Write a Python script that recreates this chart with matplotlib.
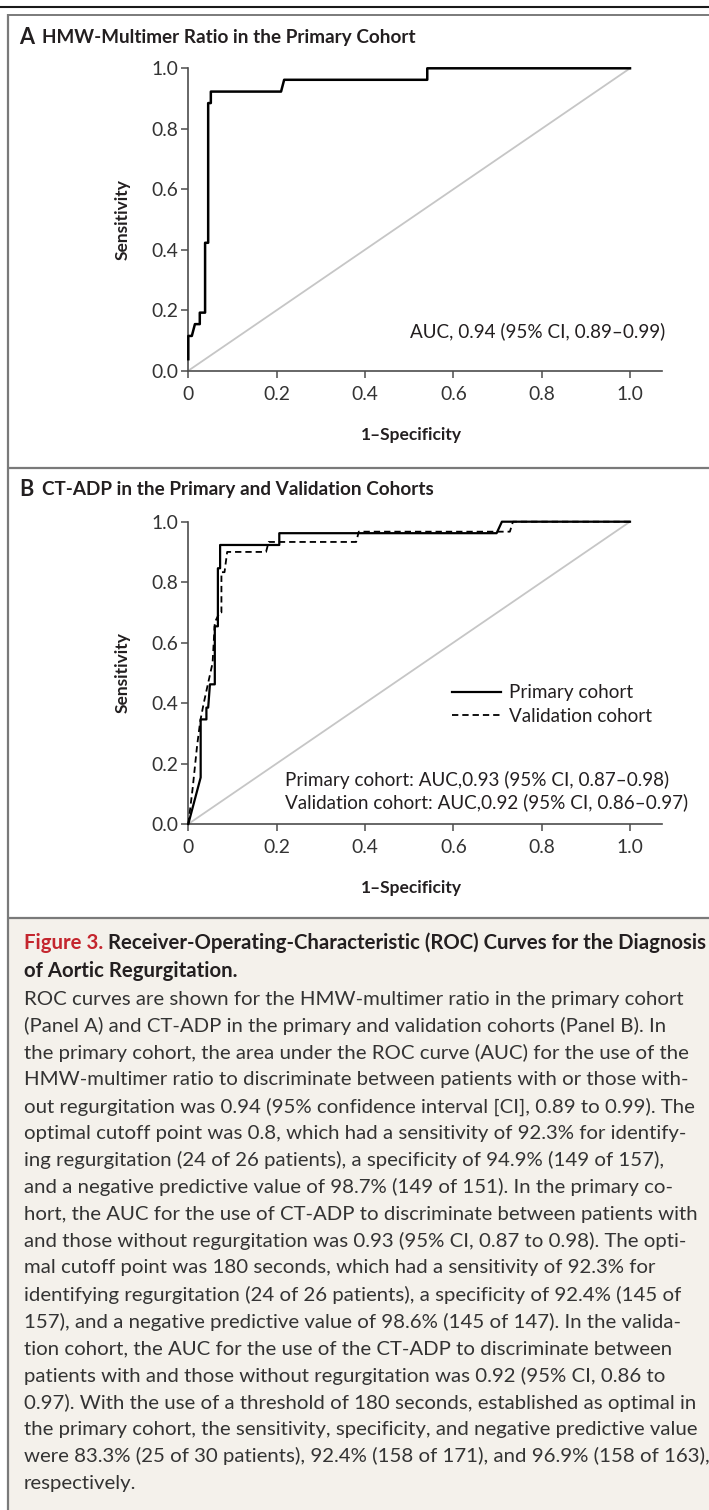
import matplotlib
matplotlib.use("Agg")
import matplotlib.pyplot as plt
from matplotlib.patches import Rectangle

plt.rcParams["font.family"] = ["Lato", "DejaVu Sans"]

# Panel A: HMW-multimer ratio, primary cohort (26 with / 157 without regurgitation)
fpr_hmw = [0.0, 0.0, 0.008, 0.015, 0.026, 0.026, 0.038, 0.038, 0.045, 0.045,
           0.051, 0.051, 0.210, 0.217, 0.541, 0.541, 1.0]
tpr_hmw = [0.038, 0.115, 0.115, 0.154, 0.154, 0.192, 0.192, 0.423, 0.423, 0.885,
           0.885, 0.923, 0.923, 0.962, 0.962, 1.0, 1.0]

# Panel B: CT-ADP, primary cohort
fpr_ct_primary = [0.0, 0.028, 0.028, 0.041, 0.041, 0.045, 0.049, 0.060, 0.060,
                  0.067, 0.067, 0.072, 0.072, 0.206, 0.206, 0.698, 0.710, 1.0]
tpr_ct_primary = [0.0, 0.154, 0.346, 0.346, 0.385, 0.385, 0.462, 0.462, 0.654,
                  0.654, 0.846, 0.846, 0.923, 0.923, 0.962, 0.962, 1.0, 1.0]

# Panel B: CT-ADP, validation cohort (30 with / 171 without regurgitation)
fpr_ct_valid = [0.0, 0.010, 0.020, 0.027, 0.035, 0.045, 0.055, 0.060, 0.071,
                0.075, 0.075, 0.082, 0.088, 0.176, 0.182, 0.380, 0.386, 0.728,
                0.735, 1.0]
tpr_ct_valid = [0.0, 0.120, 0.260, 0.340, 0.400, 0.467, 0.533, 0.667, 0.700,
                0.700, 0.833, 0.833, 0.900, 0.900, 0.933, 0.933, 0.967, 0.967,
                1.0, 1.0]

tick_vals = [0, 0.2, 0.4, 0.6, 0.8, 1.0]
xtick_labels = ["0", "0.2", "0.4", "0.6", "0.8", "1.0"]
ytick_labels = ["0.0", "0.2", "0.4", "0.6", "0.8", "1.0"]

auc_hmw = "AUC, 0.94 (95% CI, 0.89\u20130.99)"
auc_primary = "Primary cohort: AUC,0.93 (95% CI, 0.87\u20130.98)"
auc_valid = "Validation cohort: AUC,0.92 (95% CI, 0.86\u20130.97)"

caption_title = ["Receiver-Operating-Characteristic (ROC) Curves for the Diagnosis",
                 "of Aortic Regurgitation."]
caption_lines = [
    "ROC curves are shown for the HMW-multimer ratio in the primary cohort",
    "(Panel A) and CT-ADP in the primary and validation cohorts (Panel B). In",
    "the primary cohort, the area under the ROC curve (AUC) for the use of the",
    "HMW-multimer ratio to discriminate between patients with or those with-",
    "out regurgitation was 0.94 (95% confidence interval [CI], 0.89 to 0.99). The",
    "optimal cutoff point was 0.8, which had a sensitivity of 92.3% for identify-",
    "ing regurgitation (24 of 26 patients), a specificity of 94.9% (149 of 157),",
    "and a negative predictive value of 98.7% (149 of 151). In the primary co-",
    "hort, the AUC for the use of CT-ADP to discriminate between patients with",
    "and those without regurgitation was 0.93 (95% CI, 0.87 to 0.98). The opti-",
    "mal cutoff point was 180 seconds, which had a sensitivity of 92.3% for",
    "identifying regurgitation (24 of 26 patients), a specificity of 92.4% (145 of",
    "157), and a negative predictive value of 98.6% (145 of 147). In the valida-",
    "tion cohort, the AUC for the use of the CT-ADP to discriminate between",
    "patients with and those without regurgitation was 0.92 (95% CI, 0.86 to",
    "0.97). With the use of a threshold of 180 seconds, established as optimal in",
    "the primary cohort, the sensitivity, specificity, and negative predictive value",
    "were 83.3% (25 of 30 patients), 92.4% (158 of 171), and 96.9% (158 of 163),",
    "respectively.",
]

W, H = 709, 1510
DARK = "#231f20"
GRID = "#7a7a7a"

fig = plt.figure(figsize=(W / 100, H / 100), dpi=100)
fig.patch.set_facecolor("white")

# full-figure layer in pixel units for frame, headers and caption
bg = fig.add_axes([0, 0, 1, 1])
bg.set_xlim(0, W)
bg.set_ylim(H, 0)
bg.axis("off")
renderer = fig.canvas.get_renderer()


def text_width(s, size, weight="normal"):
    t = bg.text(0, 0, s, fontsize=size, fontweight=weight)
    w = t.get_window_extent(renderer).width
    t.remove()
    return w


def fit_size(s, width, weight="normal"):
    return 12 * width / text_width(s, 12, weight)


# frame
bg.add_patch(Rectangle((8, 918), W - 8, H - 918, facecolor="#f4f1eb", edgecolor="none"))
bg.plot([0, W], [7, 7], color="#1a1a1a", lw=1.5, solid_capstyle="butt")
bg.plot([8, W], [14.5, 14.5], color=GRID, lw=1.4, solid_capstyle="butt")
bg.plot([8, 8], [14, H], color=GRID, lw=1.6, solid_capstyle="butt")
bg.plot([8, W], [468, 468], color=GRID, lw=1.6, solid_capstyle="butt")
bg.plot([8, W], [918, 918], color=GRID, lw=1.6, solid_capstyle="butt")

# panel headers
head_size = fit_size("HMW-Multimer Ratio in the Primary Cohort", 370, "bold")
for letter, title, y in [("A", "HMW-Multimer Ratio in the Primary Cohort", 38),
                         ("B", "CT-ADP in the Primary and Validation Cohorts", 490)]:
    bg.text(19, y, letter, fontsize=head_size * 1.15, fontweight="bold",
            color=DARK, va="center")
    bg.text(42, y, title, fontsize=head_size, fontweight="bold", color=DARK, va="center")

note_size = fit_size(auc_valid, 400)
label_size = fit_size("1\u2013Specificity", 91, "bold") * 1.1

X0, X1, XEND = 188.3, 630.0, 662.0


def roc_axes(top, bottom):
    ax = fig.add_axes([X0 / W, 1 - bottom / H, (XEND - X0) / W, (bottom - top) / H])
    ax.set_facecolor("none")
    ax.set_xlim(0, (XEND - X0) / (X1 - X0))
    ax.set_ylim(0, 1)
    ax.plot([0, 1], [0, 1], color="#c6c6c6", lw=1.3, zorder=1)
    for side in ["top", "right"]:
        ax.spines[side].set_visible(False)
    for side in ["left", "bottom"]:
        ax.spines[side].set_color("#4d4d4d")
        ax.spines[side].set_linewidth(1.2)
    ax.set_xticks(tick_vals)
    ax.set_xticklabels(xtick_labels)
    ax.set_yticks(tick_vals)
    ax.set_yticklabels(ytick_labels)
    ax.tick_params(direction="out", length=5, width=1.1, color="#4d4d4d",
                   labelsize=note_size * 1.02, labelcolor="#333333")
    ax.tick_params(axis="x", pad=6)
    ax.tick_params(axis="y", pad=2)
    ymid = (top + bottom) / 2
    bg.text(123, ymid, "Sensitivity", rotation=90, fontsize=label_size,
            fontweight="bold", color=DARK, ha="center", va="center")
    bg.text((X0 + X1) / 2 + 2, bottom + 64, "1\u2013Specificity", fontsize=label_size,
            fontweight="bold", color=DARK, ha="center", va="center")
    return ax


# Panel A
ax_a = roc_axes(68.3, 370.7)
ax_a.plot(fpr_hmw, tpr_hmw, color="black", lw=1.8, clip_on=False, zorder=3)
ax_a.text(0.502, 0.13, auc_hmw, transform=ax_a.transData, fontsize=note_size,
          color=DARK, va="center")

# Panel B
ax_b = roc_axes(521.7, 824.0)
ax_b.plot(fpr_ct_primary, tpr_ct_primary, color="black", lw=1.6, clip_on=False,
          zorder=3, label="Primary cohort")
ax_b.plot(fpr_ct_valid, tpr_ct_valid, color="black", lw=1.3, clip_on=False,
          zorder=3, linestyle=(0, (3.5, 2.2)), label="Validation cohort")
leg = ax_b.legend(loc="center left", bbox_to_anchor=((452 - X0) / (X1 - X0), 0.395),
                  bbox_transform=ax_b.transData, frameon=False, fontsize=note_size,
                  handlelength=2.6, handletextpad=0.45, labelspacing=0.35,
                  borderpad=0, borderaxespad=0)
for t in leg.get_texts():
    t.set_color(DARK)
ax_b.text((285 - X0) / (X1 - X0), 0.145, auc_primary, transform=ax_b.transData,
          fontsize=note_size, color=DARK, va="center")
ax_b.text((285 - X0) / (X1 - X0), 0.072, auc_valid, transform=ax_b.transData,
          fontsize=note_size, color=DARK, va="center")

# caption
cap_left = 24
title_size = fit_size("Figure 3. " + caption_title[0], 681, "bold")
t = bg.text(cap_left, 943, "Figure 3.", fontsize=title_size, fontweight="bold",
            color="#c4262e", va="center")
x_next = cap_left + t.get_window_extent(renderer).width + text_width(" ", title_size, "bold")
bg.text(x_next, 943, caption_title[0], fontsize=title_size, fontweight="bold",
        color=DARK, va="center")
bg.text(cap_left, 971, caption_title[1], fontsize=title_size, fontweight="bold",
        color=DARK, va="center")

body_size = 12 * 681 / max(text_width(s, 12) for s in caption_lines)
for i, line in enumerate(caption_lines):
    bg.text(cap_left, 999 + i * 26.9, line, fontsize=body_size, color="#333333",
            va="center")

fig.savefig("out.png", dpi=100)
